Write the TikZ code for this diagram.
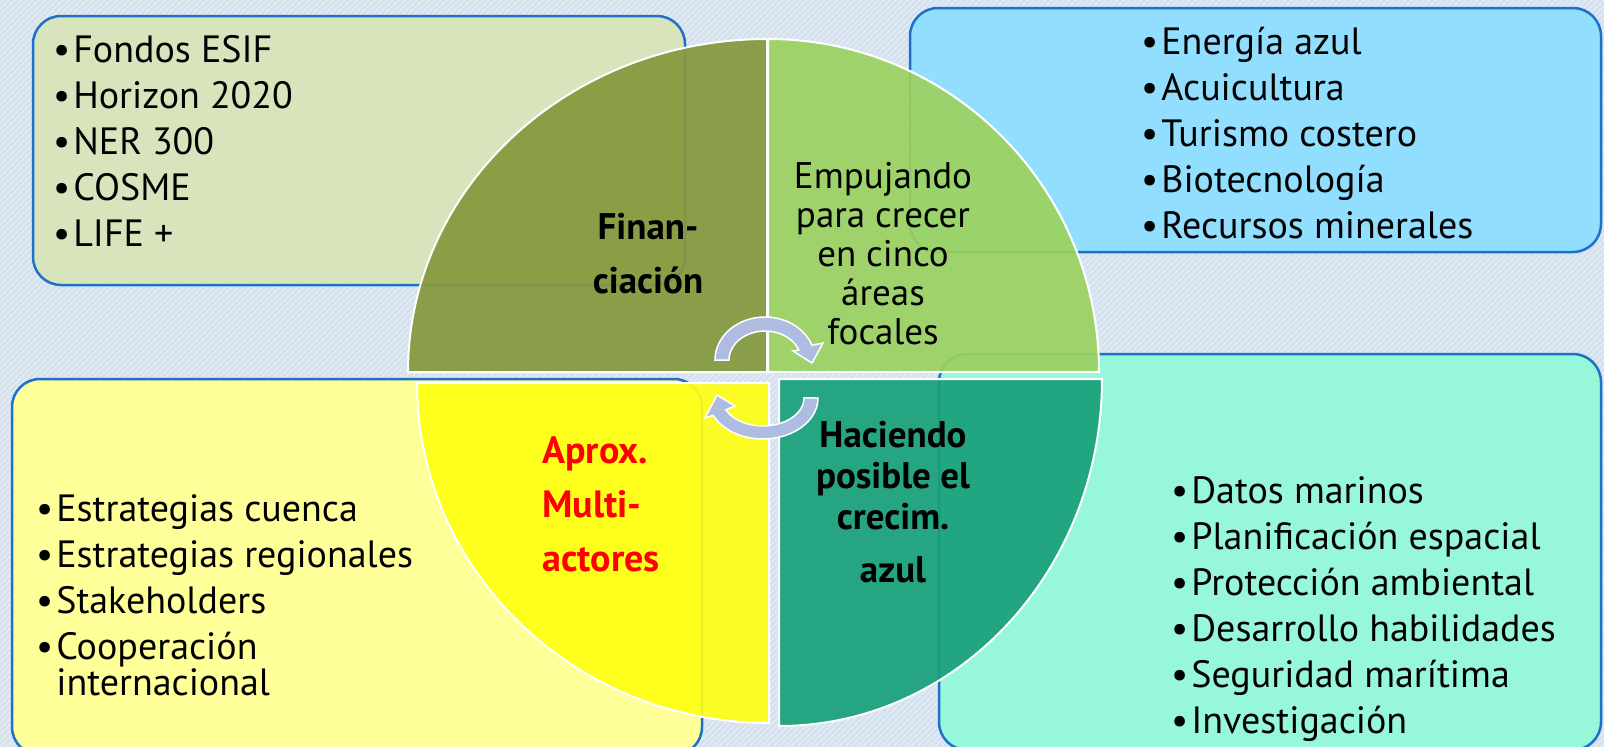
\documentclass[tikz,border=0pt]{standalone}
\usepackage{fontspec}
\setmainfont{PT Sans}
\usetikzlibrary{patterns.meta}

\definecolor{bgblue}{RGB}{213,226,238}
\definecolor{bgstripe}{RGB}{234,241,248}
\definecolor{boxline}{RGB}{30,112,200}
\definecolor{tlbox}{RGB}{216,228,188}
\definecolor{trbox}{RGB}{146,222,254}
\definecolor{blbox}{RGB}{255,255,153}
\definecolor{brbox}{RGB}{150,247,218}
\definecolor{tlquad}{RGB}{132,153,61}
\definecolor{trquad}{RGB}{155,209,96}
\definecolor{blquad}{RGB}{255,255,20}
\definecolor{brquad}{RGB}{24,160,122}
\definecolor{turnblue}{RGB}{174,188,225}
\definecolor{redtext}{RGB}{255,0,0}

\newcommand{\bul}{\textbullet\hspace{3pt}}

\begin{document}
\begin{tikzpicture}[x=1pt,y=-1pt,
	box/.style={draw=boxline,line width=2.5pt,rounded corners=28pt},
	quad/.style={draw=white,line width=2pt,fill opacity=0.92},
	turn/.style={fill=turnblue,draw=white,line width=1.5pt}]
		\tikzstyle{every node}=[font=\fontsize{38}{46}\selectfont,inner sep=0pt];
		\useasboundingbox (0,0) rectangle (1604,747);
		\fill[bgblue] (0,0) rectangle (1604,747);
		\fill[pattern={Lines[angle=45,distance=4pt,line width=1.2pt]},pattern color=bgstripe] (0,0) rectangle (1604,747);
		
		\draw[box,fill=tlbox] (33,16) rectangle (685,285);
		\draw[box,fill=trbox] (910,8) rectangle (1601,252);
		\draw[box,fill=blbox] (12,379) rectangle (702,755);
		\draw[box,fill=brbox] (939,354) rectangle (1601,750);
		
		\draw[quad,fill=tlquad] (767,372) -- (408,372) arc[start angle=180,end angle=270,x radius=359,y radius=333] -- cycle;
		\draw[quad,fill=trquad] (768,372) -- (768,39) arc[start angle=270,end angle=360,x radius=331,y radius=333] -- cycle;
		\draw[quad,fill=blquad] (769,383) -- (769,723) arc[start angle=90,end angle=180,x radius=352,y radius=340] -- cycle;
		\draw[quad,fill=brquad] (779,379) -- (1102,379) arc[start angle=0,end angle=90,x radius=323,y radius=347] -- cycle;
		
		\draw[turn] (715,360) arc[start angle=180,end angle=340,x radius=50,y radius=43] -- (823,343) -- (812,363) -- (793,351) -- (798.8,350.1) arc[start angle=340,end angle=180,x radius=36,y radius=29] -- cycle;
		\draw[turn] (818,398) arc[start angle=0,end angle=155,x radius=55,y radius=41] -- (705,418) -- (717,395) -- (735,406) -- (725.8,409.8) arc[start angle=155,end angle=0,x radius=41,y radius=28] -- cycle;
		
		\node[anchor=west,align=left] (funds) at (53,141) {\bul Fondos ESIF\\\bul Horizon 2020\\\bul NER 300\\\bul COSME\\\bul LIFE +};
		\node[anchor=west,align=left] (areas) at (1141,133) {\bul Energía azul\\\bul Acuicultura\\\bul Turismo costero\\\bul Biotecnología\\\bul Recursos minerales};
		\node[anchor=west,align=left] (actors) at (36,595) {\bul Estrategias cuenca\\\bul Estrategias regionales\\\bul Stakeholders\\\bul Cooperación\\[-10pt]\phantom{\bul}internacional};
		\node[anchor=west,align=left] (enablers) at (1171,609) {\bul Datos marinos\\\bul Planificación espacial\\\bul Protección ambiental\\\bul Desarrollo habilidades\\\bul Seguridad marítima\\\bul Investigación};
		
		\node[align=center,font=\fontsize{37}{54}\selectfont\bfseries] (finance) at (648,254) {Finan-\\ciación};
		\node[align=center,font=\fontsize{37}{39}\selectfont] (growth) at (883,254) {Empujando\\para crecer\\en cinco\\áreas\\focales};
		\node[anchor=west,align=left,font=\fontsize{38}{54}\selectfont\bfseries,text=redtext] (multi) at (542,504) {Aprox.\\Multi-\\actores};
		\node[align=center,font=\fontsize{37}{41}\selectfont\bfseries] (enable) at (893,502) {Haciendo\\posible el\\crecim.\\[12pt]azul};
	\end{tikzpicture}
\end{document}
